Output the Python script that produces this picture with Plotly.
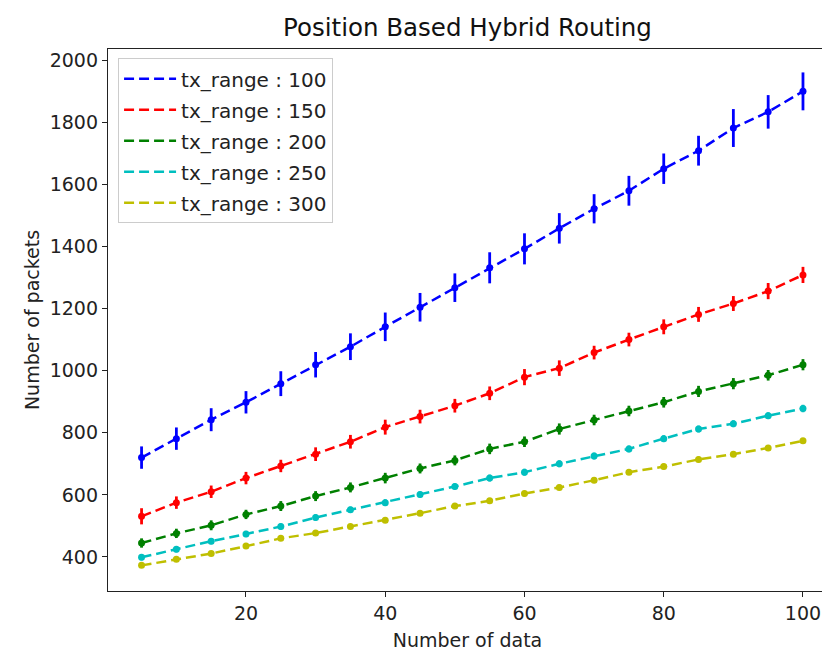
import plotly.graph_objects as go

x_data = [5, 10, 15, 20, 25, 30, 35, 40, 45, 50, 55, 60, 65, 70, 75, 80, 85, 90, 95, 100]

labels = ["tx_range : 100", "tx_range : 150", "tx_range : 200", "tx_range : 250", "tx_range : 300"]

tx100 = [720, 781, 842, 898, 958, 1019, 1077, 1141, 1204, 1267, 1331, 1392, 1458, 1521, 1579, 1650, 1708, 1781, 1833, 1899]
tx100_err = [36, 36, 37, 36, 40, 41, 43, 46, 46, 46, 50, 50, 49, 47, 48, 49, 48, 61, 54, 61]

tx150 = [531, 575, 610, 654, 693, 731, 771, 818, 852, 887, 927, 979, 1008, 1058, 1100, 1141, 1181, 1216, 1256, 1308]
tx150_err = [26, 20, 20, 20, 20, 22, 22, 24, 22, 22, 22, 26, 25, 22, 22, 24, 24, 24, 26, 26]

tx200 = [445, 476, 502, 537, 564, 596, 624, 654, 685, 711, 748, 771, 812, 841, 870, 898, 933, 958, 985, 1019]
tx200_err = [15, 15, 16, 15, 16, 16, 16, 17, 16, 16, 17, 17, 18, 17, 17, 17, 18, 18, 17, 18]

tx250 = [399, 425, 451, 474, 498, 527, 552, 575, 601, 627, 654, 673, 700, 725, 748, 781, 812, 829, 855, 878]
tx250_err = [10, 10, 10, 10, 10, 10, 10, 11, 10, 10, 11, 11, 11, 11, 11, 11, 11, 11, 11, 12]

tx300 = [373, 393, 411, 435, 460, 477, 498, 518, 541, 564, 581, 604, 624, 647, 673, 691, 714, 731, 751, 774]
tx300_err = [8, 8, 8, 8, 8, 8, 8, 8, 8, 8, 9, 9, 9, 9, 9, 9, 9, 9, 9, 9]

colors = ["#0000ff", "#ff0000", "#008000", "#00bfbf", "#bfbf00"]
series = [tx100, tx150, tx200, tx250, tx300]
errors = [tx100_err, tx150_err, tx200_err, tx250_err, tx300_err]

FONT = "DejaVu Sans"
fig = go.Figure()

for i, (lab, ys, es, c) in enumerate(zip(labels, series, errors, colors)):
    fig.add_trace(go.Scatter(
        x=x_data, y=ys, mode="lines", name=lab, legendgroup=f"g{i}",
        line=dict(color=c, width=2.5, dash="10px,5px"),
        showlegend=True,
    ))
    fig.add_trace(go.Scatter(
        x=x_data, y=ys, mode="markers", name=lab, legendgroup=f"g{i}",
        marker=dict(color=c, size=7),
        error_y=dict(type="data", array=es, visible=True, color=c, thickness=2.8, width=0),
        showlegend=False,
    ))

axis_common = dict(
    showgrid=False, zeroline=False,
    showline=True, linecolor="#222222", linewidth=1.3, mirror=True,
    ticks="outside", ticklen=5, tickwidth=1.2, tickcolor="#222222",
    tickfont=dict(family=FONT, size=19, color="#222222"),
)

W, H = 822, 644
fig.update_layout(
    width=W, height=H,
    margin=dict(l=100, r=3, t=41, b=61),
    paper_bgcolor="white", plot_bgcolor="white",
    title=dict(text="Position Based Hybrid Routing", x=0.5, xref="paper",
               y=1 - 19 / H, yref="container", yanchor="middle",
               font=dict(family=FONT, size=24.5, color="#111111")),
    xaxis=dict(range=[0.18, 103.45], tickvals=[20, 40, 60, 80, 100],
               title=dict(text="Number of data", standoff=10,
                          font=dict(family=FONT, size=19, color="#222222")),
               **axis_common),
    yaxis=dict(range=[290.5, 2035.4], tickvals=[400, 600, 800, 1000, 1200, 1400, 1600, 1800, 2000],
               title=dict(text="Number of packets", standoff=5,
                          font=dict(family=FONT, size=19, color="#222222")),
               **axis_common),
    legend=dict(x=0.014, y=0.983, xanchor="left", yanchor="top",
                bgcolor="rgba(255,255,255,0.85)", bordercolor="#cccccc", borderwidth=1,
                font=dict(family=FONT, size=20, color="#222222"),
                itemwidth=52, traceorder="grouped", tracegroupgap=2),
    showlegend=True,
)

fig.write_html("out.html")
